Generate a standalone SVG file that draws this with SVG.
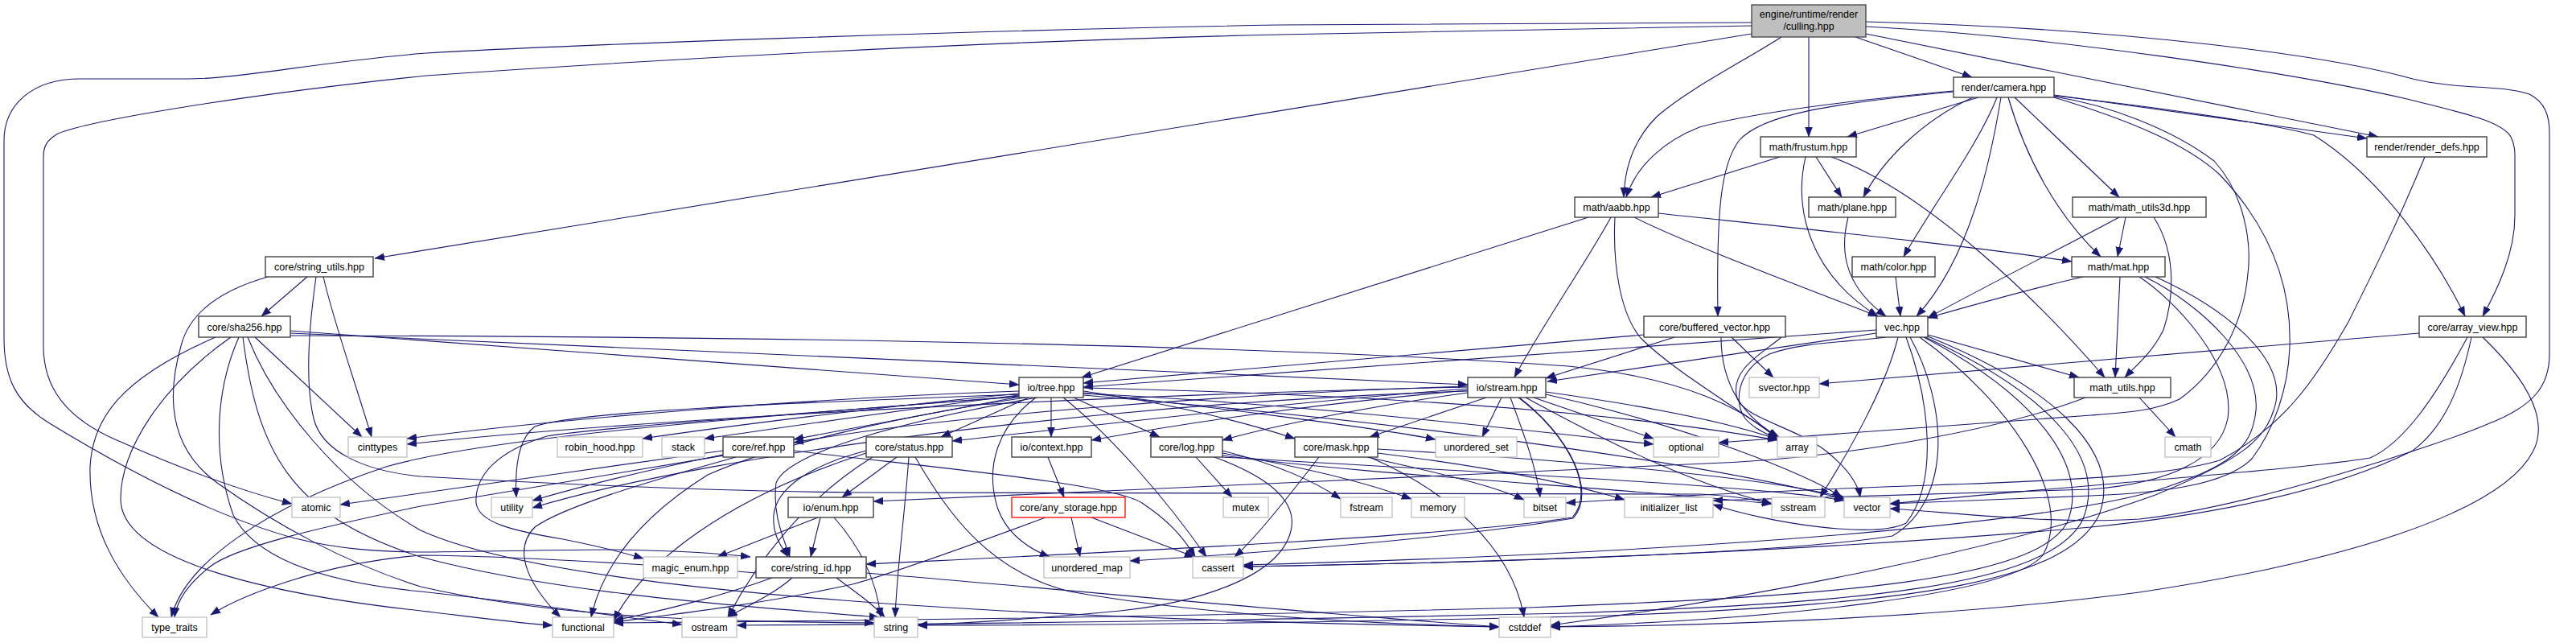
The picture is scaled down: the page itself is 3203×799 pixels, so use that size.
<svg xmlns="http://www.w3.org/2000/svg" width="3203" height="799" viewBox="0 0 3203 799">
<style>
.e path{fill:none;stroke:#191970;stroke-width:1.1;marker-end:url(#a)}
.n rect{fill:#fff;stroke:#333;stroke-width:1.3}
.x rect{fill:#fff;stroke:#bfbfbf;stroke-width:1.3}
.r rect{fill:#bfbfbf;stroke:#404040;stroke-width:1.3}
.t rect{fill:#fff;stroke:#ff0000;stroke-width:1.3}
text{font-family:"Liberation Sans",Arial,sans-serif;font-size:12.5px;text-anchor:middle;fill:#000}
</style>
<defs>
<marker id="a" viewBox="0 0 12 10" refX="12" refY="5" markerWidth="12" markerHeight="10" orient="auto" markerUnits="userSpaceOnUse"><path d="M0,0.5 L12,5 L0,9.5 Z" fill="#191970" stroke="#191970" stroke-width="0.5"/></marker>
</defs>
<rect width="3203" height="799" fill="#fff"/>
<g id="edges" class="e">
<path d="M2307,46 L2452,96"/>
<path d="M2249,46 L2249,170"/>
<path d="M2215,46 C2170,75 2100,110 2060,145 C2030,175 2020,210 2019,245"/>
<path d="M2320,42 L2957,170"/>
<path d="M2320,33 C2550,45 2850,90 2993,123 C3060,140 3110,150 3122,170 C3128,182 3127,192 3127,205 L3127,268 C3127,315 3105,360 3087,393"/>
<path d="M2320,27 C2650,35 2900,70 3000,98 C3060,112 3110,105 3145,117 C3165,127 3170,145 3170,165 L3170,440 C3170,480 3150,505 3093,527 C3040,550 2800,630 2660,645 C2550,652 2420,636 2350,632"/>
<path d="M2178,42 L466,321"/>
<path d="M2178,28 L1590,31 C1200,38 700,56 530,66 C400,76 300,98 233,98 L100,98 C40,98 5,130 5,175 L5,420 C5,470 20,500 60,525 C150,580 260,640 367,669 C420,682 470,686 530,686 C620,685 700,683 763,683 C830,684 890,687 933,692"/>
<path d="M2178,32 L1590,43 C1200,52 800,75 530,94 C300,118 110,150 72,166 C58,174 54,182 54,195 L54,430 C54,480 80,520 150,549 C220,580 300,610 363,626"/>
<path d="M2460,121 L2297,170"/>
<path d="M2453,121 C2390,150 2340,200 2317,245"/>
<path d="M2483,121 C2460,180 2400,260 2367,319"/>
<path d="M2488,121 C2475,200 2450,320 2383,393"/>
<path d="M2497,121 C2520,200 2560,270 2612,319"/>
<path d="M2505,121 L2635,245"/>
<path d="M2429,113 C2300,125 2180,140 2113,158 C2070,175 2035,205 2022,245"/>
<path d="M2429,114 C2280,128 2190,142 2162,175 C2140,205 2134,260 2136,393"/>
<path d="M2554,118 L2943,172"/>
<path d="M2554,119 C2700,135 2830,155 2877,168 C2960,220 3030,320 3065,393"/>
<path d="M2554,120 C2620,130 2700,160 2753,200 C2790,240 2800,300 2795,340 C2790,400 2760,460 2710,496 C2680,510 2650,512 2600,516 L2137,550"/>
<path d="M2554,121 C2650,150 2720,180 2760,217 C2820,280 2850,350 2847,432 C2845,480 2830,530 2800,570 C2770,600 2700,612 2600,616 L2350,626"/>
<path d="M2213,195 L2053,245"/>
<path d="M2258,195 L2290,245"/>
<path d="M2245,195 C2230,260 2250,340 2335,393"/>
<path d="M2277,195 C2400,240 2540,380 2617,469"/>
<path d="M3015,195 C2980,280 2945,350 2920,400 C2880,470 2840,530 2760,572 C2700,590 2600,596 2400,603 C2200,610 2050,618 1947,625"/>
<path d="M1975,270 L1345,469"/>
<path d="M2003,270 C1970,330 1920,400 1883,469"/>
<path d="M2008,270 C2005,330 2015,390 2040,420 C2080,460 2150,500 2210,544"/>
<path d="M2032,270 C2090,300 2250,360 2335,393"/>
<path d="M2062,265 C2200,280 2450,305 2576,325"/>
<path d="M2298,270 C2285,320 2300,360 2345,393"/>
<path d="M2635,270 C2560,310 2460,360 2397,395"/>
<path d="M2643,270 L2633,319"/>
<path d="M2678,270 C2710,320 2700,380 2690,410 C2675,440 2655,455 2642,469"/>
<path d="M2357,344 L2363,393"/>
<path d="M382,344 L325,393"/>
<path d="M402,344 C415,400 440,470 462,543"/>
<path d="M393,344 C385,400 378,470 390,520 C400,560 450,585 523,592 C700,602 900,610 1060,612 L2113,614 C2150,616 2180,620 2203,626"/>
<path d="M333,344 C270,362 235,390 225,430 C205,500 215,560 270,600 C340,650 430,700 523,729 C700,770 900,772 1087,774"/>
<path d="M268,419 C150,470 115,520 112,580 C110,660 150,720 197,767"/>
<path d="M287,419 C200,480 150,560 150,620 C150,700 350,740 523,759 C600,768 650,775 687,777"/>
<path d="M297,419 C270,480 262,560 290,640 C320,700 420,725 523,735 C680,752 780,768 848,776"/>
<path d="M302,419 C320,560 360,640 523,692 C700,740 950,755 1093,767"/>
<path d="M308,419 C340,500 420,600 523,659 C700,740 1300,770 1864,779"/>
<path d="M317,419 L450,543"/>
<path d="M361,411 L1267,478"/>
<path d="M361,414 L1825,478"/>
<path d="M361,417 C1000,418 1600,430 1950,455 C2100,470 2170,510 2210,545"/>
<path d="M2044,416 L1347,476"/>
<path d="M2082,419 L1922,470"/>
<path d="M2153,419 L2205,469"/>
<path d="M2140,419 C2140,480 2170,520 2212,543"/>
<path d="M2215,419 C2190,440 2150,460 2160,495 C2170,520 2230,530 2270,560 C2295,580 2310,600 2313,618"/>
<path d="M2333,410 C2100,428 1700,455 1347,481"/>
<path d="M2333,414 L1924,474"/>
<path d="M2397,416 L2585,469"/>
<path d="M2360,419 C2345,480 2300,560 2263,618"/>
<path d="M2345,419 C2300,425 2240,425 2200,440 C2160,460 2155,500 2170,520 C2180,532 2195,538 2210,546"/>
<path d="M2370,419 C2400,500 2410,600 2370,650 C2330,670 2200,650 2130,627"/>
<path d="M2375,419 C2420,500 2430,620 2353,666 C2200,690 1800,700 1546,704"/>
<path d="M2387,419 C2500,500 2580,620 2540,690 C2500,740 2200,770 1928,779"/>
<path d="M2397,418 C2550,480 2640,560 2610,640 C2570,720 2400,750 2000,765 C1600,775 1300,777 1141,777"/>
<path d="M2392,419 C2530,490 2600,580 2570,650 C2530,720 2300,740 1900,755 C1400,768 1000,772 763,774"/>
<path d="M2394,419 C2550,490 2620,570 2590,645 C2550,730 2300,750 1950,762 C1500,772 1100,776 916,777"/>
<path d="M2590,344 C2520,360 2450,380 2397,395"/>
<path d="M2636,344 L2630,469"/>
<path d="M2660,344 C2700,370 2780,450 2770,520 C2760,570 2700,600 2600,608 C2400,615 2200,620 2130,622"/>
<path d="M2667,344 C2740,380 2810,450 2805,510 C2800,560 2770,580 2680,610 C2500,660 2000,690 1546,702"/>
<path d="M2680,344 C2760,380 2840,440 2830,499 C2820,545 2790,570 2680,615 C2500,680 2200,740 1928,777"/>
<path d="M3008,414 L2262,477"/>
<path d="M3068,419 C3030,490 2990,550 2947,569 C2850,585 2500,610 2350,626"/>
<path d="M3073,419 C3060,480 3040,530 3000,560 C2900,610 2750,640 2600,655 C2200,690 1800,700 1546,704"/>
<path d="M3087,419 C3140,470 3170,520 3150,560 C3110,640 2900,700 2660,736 C2400,770 2100,778 1928,779"/>
<path d="M2660,494 L2705,543"/>
<path d="M2593,494 C2500,530 2300,570 2120,576 C1800,590 1400,610 1086,623"/>
<path d="M1267,486 C1000,495 700,520 506,545"/>
<path d="M1267,489 C1100,505 900,530 799,545"/>
<path d="M1267,491 C1100,512 950,535 876,545"/>
<path d="M1268,493 L987,546"/>
<path d="M1279,494 L1170,543"/>
<path d="M1307,494 L1307,543"/>
<path d="M1335,494 L1442,543"/>
<path d="M1288,494 C1240,530 1225,580 1240,630 C1250,660 1275,680 1305,692"/>
<path d="M1322,494 C1380,540 1450,620 1500,692"/>
<path d="M1347,486 C1450,500 1550,525 1610,545"/>
<path d="M1347,488 C1500,505 1700,530 1785,546"/>
<path d="M1347,489 C1600,500 1900,535 2056,552"/>
<path d="M1347,482 C1700,490 2000,510 2210,547"/>
<path d="M1268,490 C1000,500 720,510 665,530 C645,545 640,580 642,618"/>
<path d="M1267,492 C1000,515 750,530 680,542 C620,560 590,590 592,625 C595,650 640,660 700,670 C740,678 770,685 800,694"/>
<path d="M1290,494 C1140,520 980,560 965,600 C960,640 975,670 982,692"/>
<path d="M1275,494 C1100,520 960,555 880,590 C800,640 750,700 735,767"/>
<path d="M1267,493 C900,520 600,545 480,580 C330,630 230,700 213,767"/>
<path d="M1347,491 C1700,520 2100,570 2293,620"/>
<path d="M1848,494 L1703,543"/>
<path d="M1867,494 L1843,543"/>
<path d="M1878,494 C1895,540 1910,580 1915,618"/>
<path d="M1907,494 L2056,545"/>
<path d="M1922,487 C2050,505 2150,525 2210,546"/>
<path d="M1922,490 C2100,530 2250,590 2290,618"/>
<path d="M1897,494 C2000,550 2100,600 2203,626"/>
<path d="M1888,494 C1950,540 1985,610 1955,643 C1800,668 1300,690 1077,701"/>
<path d="M1889,494 C1951,541 1986,611 1956,644 C1800,670 1550,688 1405,697"/>
<path d="M1825,480 C1500,490 1150,520 987,550"/>
<path d="M1825,483 C1600,500 1350,530 1184,548"/>
<path d="M1825,485 C1600,505 1450,530 1357,547"/>
<path d="M1825,488 C1700,505 1580,530 1520,547"/>
<path d="M1825,481 C1400,490 800,520 506,552"/>
<path d="M1825,486 C1400,500 900,560 662,631"/>
<path d="M899,560 C750,580 550,610 423,627"/>
<path d="M899,565 C800,585 720,605 662,622"/>
<path d="M900,566 C750,590 600,615 523,629 C400,655 290,680 260,705 C235,725 220,745 217,767"/>
<path d="M915,568 C800,600 700,630 665,655 C635,685 660,730 697,767"/>
<path d="M987,560 C1150,580 1380,600 1420,625 C1450,645 1470,665 1486,692"/>
<path d="M1115,568 L1047,618"/>
<path d="M1130,568 C1125,640 1115,710 1113,767"/>
<path d="M1077,560 C1000,580 965,610 962,640 C960,665 972,680 980,692"/>
<path d="M1138,568 C1180,640 1230,710 1330,735 C1500,765 1700,775 1864,779"/>
<path d="M1077,563 C900,620 800,700 763,771"/>
<path d="M1085,568 C1000,620 940,700 905,767"/>
<path d="M1303,568 L1323,618"/>
<path d="M1332,643 L1343,692"/>
<path d="M1357,643 L1485,692"/>
<path d="M1300,643 C1200,680 1100,715 1060,726 C950,750 850,762 763,773"/>
<path d="M1487,568 L1532,618"/>
<path d="M1520,560 C1580,575 1630,595 1667,620"/>
<path d="M1520,563 C1620,580 1700,600 1755,620"/>
<path d="M1520,566 C1700,590 2000,605 2203,626"/>
<path d="M1520,568 C1900,590 2200,605 2293,622"/>
<path d="M1510,568 C1570,590 1615,620 1605,660 C1590,720 1480,750 1393,759 C1300,768 1200,774 1141,777"/>
<path d="M1700,568 C1800,590 1860,605 1895,621"/>
<path d="M1713,563 C1850,580 1950,600 2020,621"/>
<path d="M1703,568 C1800,610 1880,680 1895,767"/>
<path d="M1713,558 C2000,575 2200,595 2293,618"/>
<path d="M1640,568 C1600,620 1560,670 1535,692"/>
<path d="M1017,643 L892,692"/>
<path d="M1020,643 L1008,692"/>
<path d="M1037,643 C1070,680 1090,720 1095,767"/>
<path d="M940,712 C800,700 600,690 523,690 C400,700 300,740 262,764"/>
<path d="M960,718 C900,740 820,760 763,771"/>
<path d="M985,718 C960,740 925,755 905,767"/>
<path d="M1040,718 C1070,740 1090,755 1100,767"/>
<path d="M1077,712 C1300,730 1600,760 1864,779"/>
</g>
<g id="node_culling" class="r"><rect x="2178" y="6" width="142" height="40"/><text x="2249" y="22">engine/runtime/render</text><text x="2249" y="36.5">/culling.hpp</text></g>
<g id="node_camera" class="n"><rect x="2429" y="96" width="125" height="25"/><text x="2491.5" y="113">render/camera.hpp</text></g>
<g id="node_frustum" class="n"><rect x="2189" y="170" width="119" height="25"/><text x="2248.5" y="187">math/frustum.hpp</text></g>
<g id="node_render_defs" class="n"><rect x="2943" y="170" width="149" height="25"/><text x="3017.5" y="187">render/render_defs.hpp</text></g>
<g id="node_aabb" class="n"><rect x="1958" y="245" width="104" height="25"/><text x="2010" y="262">math/aabb.hpp</text></g>
<g id="node_plane" class="n"><rect x="2249" y="245" width="108" height="25"/><text x="2303" y="262">math/plane.hpp</text></g>
<g id="node_math_utils3d" class="n"><rect x="2577" y="245" width="166" height="25"/><text x="2660" y="262">math/math_utils3d.hpp</text></g>
<g id="node_string_utils" class="n"><rect x="330" y="319" width="134" height="25"/><text x="397" y="336">core/string_utils.hpp</text></g>
<g id="node_color" class="n"><rect x="2303" y="319" width="103" height="25"/><text x="2354.5" y="336">math/color.hpp</text></g>
<g id="node_mat" class="n"><rect x="2576" y="319" width="116" height="25"/><text x="2634" y="336">math/mat.hpp</text></g>
<g id="node_sha256" class="n"><rect x="247" y="393" width="114" height="26"/><text x="304" y="410.5">core/sha256.hpp</text></g>
<g id="node_buffered_vector" class="n"><rect x="2044" y="393" width="176" height="26"/><text x="2132" y="410.5">core/buffered_vector.hpp</text></g>
<g id="node_vec" class="n"><rect x="2333" y="393" width="64" height="26"/><text x="2365" y="410.5">vec.hpp</text></g>
<g id="node_array_view" class="n"><rect x="3008" y="393" width="133" height="26"/><text x="3074.5" y="410.5">core/array_view.hpp</text></g>
<g id="node_tree" class="n"><rect x="1267" y="469" width="80" height="25"/><text x="1307" y="486">io/tree.hpp</text></g>
<g id="node_stream" class="n"><rect x="1825" y="469" width="97" height="25"/><text x="1873.5" y="486">io/stream.hpp</text></g>
<g id="node_svector" class="x"><rect x="2175" y="469" width="87" height="25"/><text x="2218.5" y="486">svector.hpp</text></g>
<g id="node_math_utils" class="n"><rect x="2579" y="469" width="120" height="25"/><text x="2639" y="486">math_utils.hpp</text></g>
<g id="node_cinttypes" class="x"><rect x="433" y="543" width="73" height="25"/><text x="469.5" y="560">cinttypes</text></g>
<g id="node_robin_hood" class="x"><rect x="693" y="543" width="106" height="25"/><text x="746" y="560">robin_hood.hpp</text></g>
<g id="node_stack" class="x"><rect x="823" y="543" width="53" height="25"/><text x="849.5" y="560">stack</text></g>
<g id="node_ref" class="n"><rect x="899" y="543" width="88" height="25"/><text x="943" y="560">core/ref.hpp</text></g>
<g id="node_status" class="n"><rect x="1077" y="543" width="107" height="25"/><text x="1130.5" y="560">core/status.hpp</text></g>
<g id="node_context" class="n"><rect x="1258" y="543" width="99" height="25"/><text x="1307.5" y="560">io/context.hpp</text></g>
<g id="node_log" class="n"><rect x="1431" y="543" width="89" height="25"/><text x="1475.5" y="560">core/log.hpp</text></g>
<g id="node_mask" class="n"><rect x="1610" y="543" width="103" height="25"/><text x="1661.5" y="560">core/mask.hpp</text></g>
<g id="node_unordered_set" class="x"><rect x="1785" y="543" width="101" height="25"/><text x="1835.5" y="560">unordered_set</text></g>
<g id="node_optional" class="x"><rect x="2056" y="543" width="81" height="25"/><text x="2096.5" y="560">optional</text></g>
<g id="node_array" class="x"><rect x="2210" y="543" width="49" height="25"/><text x="2234.5" y="560">array</text></g>
<g id="node_cmath" class="x"><rect x="2692" y="543" width="57" height="25"/><text x="2720.5" y="560">cmath</text></g>
<g id="node_atomic" class="x"><rect x="363" y="618" width="60" height="25"/><text x="393" y="635">atomic</text></g>
<g id="node_utility" class="x"><rect x="611" y="618" width="51" height="25"/><text x="636.5" y="635">utility</text></g>
<g id="node_enum" class="n"><rect x="980" y="618" width="106" height="25"/><text x="1033" y="635">io/enum.hpp</text></g>
<g id="node_any_storage" class="t"><rect x="1258" y="618" width="141" height="25"/><text x="1328.5" y="635">core/any_storage.hpp</text></g>
<g id="node_mutex" class="x"><rect x="1521" y="618" width="56" height="25"/><text x="1549" y="635">mutex</text></g>
<g id="node_fstream" class="x"><rect x="1667" y="618" width="64" height="25"/><text x="1699" y="635">fstream</text></g>
<g id="node_memory" class="x"><rect x="1755" y="618" width="66" height="25"/><text x="1788" y="635">memory</text></g>
<g id="node_bitset" class="x"><rect x="1895" y="618" width="52" height="25"/><text x="1921" y="635">bitset</text></g>
<g id="node_initializer_list" class="x"><rect x="2020" y="618" width="110" height="25"/><text x="2075" y="635">initializer_list</text></g>
<g id="node_sstream" class="x"><rect x="2203" y="618" width="66" height="25"/><text x="2236" y="635">sstream</text></g>
<g id="node_vector" class="x"><rect x="2293" y="618" width="57" height="25"/><text x="2321.5" y="635">vector</text></g>
<g id="node_magic_enum" class="x"><rect x="800" y="692" width="117" height="26"/><text x="858.5" y="709.5">magic_enum.hpp</text></g>
<g id="node_string_id" class="n"><rect x="940" y="692" width="137" height="26"/><text x="1008.5" y="709.5">core/string_id.hpp</text></g>
<g id="node_unordered_map" class="x"><rect x="1298" y="692" width="107" height="26"/><text x="1351.5" y="709.5">unordered_map</text></g>
<g id="node_cassert" class="x"><rect x="1483" y="692" width="63" height="26"/><text x="1514.5" y="709.5">cassert</text></g>
<g id="node_type_traits" class="x"><rect x="177" y="767" width="80" height="25"/><text x="217" y="784">type_traits</text></g>
<g id="node_functional" class="x"><rect x="687" y="767" width="76" height="25"/><text x="725" y="784">functional</text></g>
<g id="node_ostream" class="x"><rect x="848" y="767" width="68" height="25"/><text x="882" y="784">ostream</text></g>
<g id="node_string" class="x"><rect x="1087" y="767" width="54" height="25"/><text x="1114" y="784">string</text></g>
<g id="node_cstddef" class="x"><rect x="1864" y="767" width="64" height="25"/><text x="1896" y="784">cstddef</text></g>
</svg>
